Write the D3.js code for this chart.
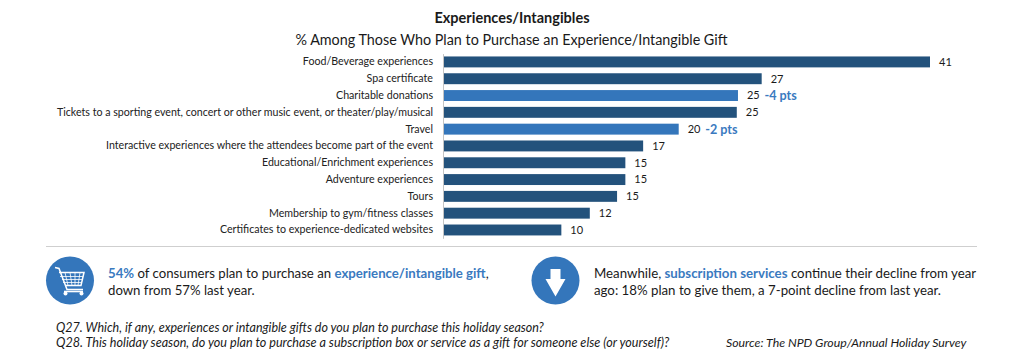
<!DOCTYPE html>
<html>
<head>
<meta charset="utf-8">
<script src="https://cdn.jsdelivr.net/npm/d3@7"></script>
<style>
  html, body { margin: 0; padding: 0; background: #fff; }
  text { font-family: Lato, "Open Sans", sans-serif; fill: #1a1a1a; }
  .hl { fill: #3a7abf; font-weight: 700; }
</style>
</head>
<body>
<div id="chart"></div>
<script>
var width = 1024;
var height = 364;

var categories = [
  'Food/Beverage experiences',
  'Spa certificate',
  'Charitable donations',
  'Tickets to a sporting event, concert or other music event, or theater/play/musical',
  'Travel',
  'Interactive experiences where the attendees become part of the event',
  'Educational/Enrichment experiences',
  'Adventure experiences',
  'Tours',
  'Membership to gym/fitness classes',
  'Certificates to experience-dedicated websites'
];
// bar lengths, the labels are these rounded
var values = [41, 26.8, 24.8, 24.7, 19.8, 16.8, 15.3, 15.3, 14.6, 12.3, 9.9];
var changes = ['', '', '-4 pts', '', '-2 pts', '', '', '', '', '', ''];

var darkBlue = '#23527c';
var lightBlue = '#3476bb';

var svg = d3.select('#chart')
  .append('svg')
  .attr('width', width)
  .attr('height', height)
  .style('display', 'block');

// titles
svg.append('text')
  .attr('x', 512).attr('y', 23)
  .attr('text-anchor', 'middle')
  .style('font-size', '14.5px').style('font-weight', 700)
  .text('Experiences/Intangibles');

svg.append('text')
  .attr('x', 511.5).attr('y', 45)
  .attr('text-anchor', 'middle')
  .style('font-size', '14.35px')
  .text('% Among Those Who Plan to Purchase an Experience/Intangible Gift');

// scales
var x = d3.scaleLinear().domain([0, 41]).range([444, 930]);
var y = d3.scaleBand().domain(categories).range([53.6, 238.3]).paddingInner(0.35).paddingOuter(0.17);

// category axis
var yAxis = d3.axisLeft(y).tickSize(0).tickPadding(10);
var axisG = svg.append('g')
  .attr('transform', 'translate(443,0)')
  .call(yAxis);
axisG.select('.domain').attr('stroke', '#c4c4c4');
axisG.selectAll('text')
  .style('font-size', '10.65px')
  .style('fill', '#222');

// bars
svg.selectAll('.bar')
  .data(categories)
  .enter()
  .append('rect')
  .attr('class', 'bar')
  .attr('x', x(0))
  .attr('y', d => y(d))
  .attr('width', (d, i) => x(values[i]) - x(0))
  .attr('height', y.bandwidth())
  .attr('fill', (d, i) => changes[i] ? lightBlue : darkBlue);

// value labels
svg.selectAll('.val')
  .data(categories)
  .enter()
  .append('text')
  .attr('class', 'val')
  .attr('x', (d, i) => x(values[i]) + 9)
  .attr('y', d => y(d) + y.bandwidth() / 2)
  .attr('dy', '0.35em')
  .style('font-size', '11px')
  .text((d, i) => d3.format('.0f')(values[i]));

// point changes
svg.selectAll('.chg')
  .data(categories.filter((d, i) => changes[i]))
  .enter()
  .append('text')
  .attr('class', 'hl')
  .attr('x', d => x(values[categories.indexOf(d)]) + 26.5)
  .attr('y', d => y(d) + y.bandwidth() / 2)
  .attr('dy', '0.35em')
  .style('font-size', '12.6px')
  .text(d => changes[categories.indexOf(d)]);

// divider
svg.append('line')
  .attr('x1', 46).attr('x2', 977)
  .attr('y1', 246.5).attr('y2', 246.5)
  .attr('stroke', '#cfcfcf')
  .attr('stroke-width', 1);

// cart badge
var cart = svg.append('g').attr('transform', 'translate(70,280.5)');
cart.append('circle').attr('r', 24).attr('fill', lightBlue);
cart.append('path')
  .attr('d', 'M-15,-13 L-11,-12 L-3,9 L13,9 M-11,-8 L14,-8 L11,5 L-5,5')
  .attr('fill', 'none').attr('stroke', '#fff').attr('stroke-width', 1.5);
cart.append('path')
  .attr('d', 'M-5,-8 L-2,5 M0,-8 L2,5 M5,-8 L5,5 M10,-8 L8,5 M-10,-4 L13,-4 M-8,-1 L12,-1 M-7,2 L12,2')
  .attr('fill', 'none').attr('stroke', '#fff').attr('stroke-width', 0.8);
cart.append('path')
  .attr('d', 'M-6,11 L13,11')
  .attr('fill', 'none').attr('stroke', '#fff').attr('stroke-width', 1.6);
cart.append('circle').attr('cx', -4.5).attr('cy', 13).attr('r', 2).attr('fill', '#fff');
cart.append('circle').attr('cx', 11.5).attr('cy', 13).attr('r', 2).attr('fill', '#fff');

// arrow badge
var arrow = svg.append('g').attr('transform', 'translate(555.5,280.5)');
arrow.append('circle').attr('r', 24).attr('fill', lightBlue);
arrow.append('path')
  .attr('d', 'M-5,-11.5 L5,-11.5 L5,-1.5 L10,-1.5 L0,16 L-10,-1.5 L-5,-1.5 Z')
  .attr('fill', '#fff');

// callouts, blue runs marked with true
function textLine(px, py, size, parts) {
  var t = svg.append('text').attr('x', px).attr('y', py).style('font-size', size + 'px');
  parts.forEach(function (p) {
    var s = t.append('tspan').text(p[0]);
    if (p[1]) s.attr('class', 'hl');
  });
}

textLine(108, 278, 13.2, [['54%', true], [' of consumers plan to purchase an '], ['experience/intangible gift', true], [',']]);
textLine(108, 295, 13.2, [['down from 57% last year.']]);
textLine(594, 278, 13.25, [['Meanwhile, '], ['subscription services', true], [' continue their decline from year']]);
textLine(594, 295, 13.25, [['ago: 18% plan to give them, a 7-point decline from last year.']]);

// footnotes
var notes = [
  [56, 331.5, 12.5, 'Q27. Which, if any, experiences or intangible gifts do you plan to purchase this holiday season?'],
  [56, 346.5, 12.6, 'Q28. This holiday season, do you plan to purchase a subscription box or service as a gift for someone else (or yourself)?'],
  [726, 346.5, 12.3, 'Source: The NPD Group/Annual Holiday Survey']
];
svg.selectAll('.note')
  .data(notes)
  .enter()
  .append('text')
  .attr('class', 'note')
  .attr('x', d => d[0])
  .attr('y', d => d[1])
  .style('font-size', d => d[2] + 'px')
  .style('font-style', 'italic')
  .text(d => d[3]);
</script>
</body>
</html>
